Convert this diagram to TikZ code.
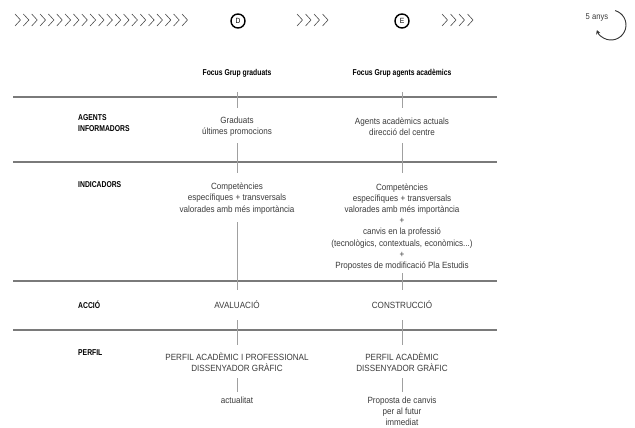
\documentclass[tikz,border=0pt]{standalone}
\usepackage{fontspec}
\setmainfont{Liberation Sans}[FakeStretch=0.9]
\newfontfamily\headf{Liberation Sans}[FakeStretch=0.8]
\usetikzlibrary{calc,arrows.meta}
\definecolor{rulegray}{HTML}{7A7A7A}
\definecolor{conngray}{HTML}{A0A0A0}
\definecolor{txt}{HTML}{3A3A3A}
\begin{document}
\begin{tikzpicture}[x=1pt,y=-1pt,
  body/.style={font=\fontsize{9}{11.2}\selectfont, text=txt, align=center, inner sep=0pt},
  head/.style={font=\headf\bfseries\fontsize{8.5}{11.5}\selectfont, text=black, align=center, inner sep=0pt},
  rowlab/.style={head, anchor=west, align=left},
  rulel/.style={draw=rulegray, line width=1.1pt},
  vconn/.style={draw=conngray, line width=0.8pt},
  chev/.style={draw=black!70, line width=0.6pt},
  stage/.style={circle, draw=black, line width=1.4pt, minimum size=14pt, inner sep=0pt, font=\fontsize{7.5}{7.5}\selectfont},
  cycarrow/.style={draw=black!80, line width=0.9pt, -{Stealth[length=4pt,width=4.5pt]}}]
\useasboundingbox (0,0) rectangle (635,428);
% chevrons
\foreach \i in {0,...,20}
  \draw[chev] ({15+8.35*\i},14) -- ({20.5+8.35*\i},20) -- ({15+8.35*\i},26);
\foreach \i in {0,...,3}
  \draw[chev] ({297+8.5*\i},14) -- ({302.5+8.5*\i},20) -- ({297+8.5*\i},26);
\foreach \i in {0,...,3}
  \draw[chev] ({442+8.5*\i},14) -- ({447.5+8.5*\i},20) -- ({442+8.5*\i},26);
\node[stage] (sd) at (238,21) {D};
\node[stage] (se) at (402,21) {E};
\node[body, font=\fontsize{8.5}{10}\selectfont] (yrs) at (597,17) {5 anys};
\coordinate (cyc) at (611,25);
\draw[cycarrow] ($(cyc)+(74:15pt)$) arc[start angle=74,end angle=-160,radius=15pt];
% rules
\draw[rulel] (13,97) -- (497,97);
\draw[rulel] (13,162) -- (497,162);
\draw[rulel] (13,281) -- (497,281);
\draw[rulel] (13,330) -- (497,330);
% row labels
\node[rowlab] (l1) at (78,123) {AGENTS\\INFORMADORS};
\node[rowlab] (l2) at (78,185) {INDICADORS};
\node[rowlab] (l3) at (78,305) {ACCIÓ};
\node[rowlab] (l4) at (78,353) {PERFIL};
% column headers
\node[head] (hg) at (237,73) {Focus Grup graduats};
\node[head] (ha) at (402,73) {Focus Grup agents acadèmics};
% left column
\node[body] (g1) at (237,126.5) {Graduats\\últimes promocions};
\node[body] (g2) at (237,198.5) {Competències\\específiques + transversals\\valorades amb més importància};
\node[body] (g3) at (237,305) {AVALUACIÓ};
\node[body] (g4) at (237,362) {PERFIL ACADÈMIC I PROFESSIONAL\\DISSENYADOR GRÀFIC};
\node[body] (g5) at (237,400) {actualitat};
% right column
\node[body] (a1) at (402,126.5) {Agents acadèmics actuals\\direcció del centre};
\node[body] (a2) at (402,227) {Competències\\específiques + transversals\\valorades amb més importància\\+\\canvis en la professió\\(tecnològics, contextuals, econòmics...)\\+\\Propostes de modificació Pla Estudis};
\node[body] (a3) at (402,305) {CONSTRUCCIÓ};
\node[body] (a4) at (402,362) {PERFIL ACADÈMIC\\DISSENYADOR GRÀFIC};
\node[body] (a5) at (402,411.5) {Proposta de canvis\\per al futur\\immediat};
% connectors
\draw[vconn] (hg |- 0,92) -- (g1 |- 0,108);
\draw[vconn] (g1 |- 0,143) -- (g2 |- 0,173);
\draw[vconn] (g2 |- 0,222) -- (g3 |- 0,290);
\draw[vconn] (g3 |- 0,320) -- (g4 |- 0,345);
\draw[vconn] (g4 |- 0,378) -- (g5 |- 0,392);
\draw[vconn] (ha |- 0,92) -- (a1 |- 0,108);
\draw[vconn] (a1 |- 0,143) -- (a2 |- 0,173);
\draw[vconn] (a2 |- 0,273) -- (a3 |- 0,290);
\draw[vconn] (a3 |- 0,320) -- (a4 |- 0,345);
\draw[vconn] (a4 |- 0,378) -- (a5 |- 0,392);
\end{tikzpicture}
\end{document}
